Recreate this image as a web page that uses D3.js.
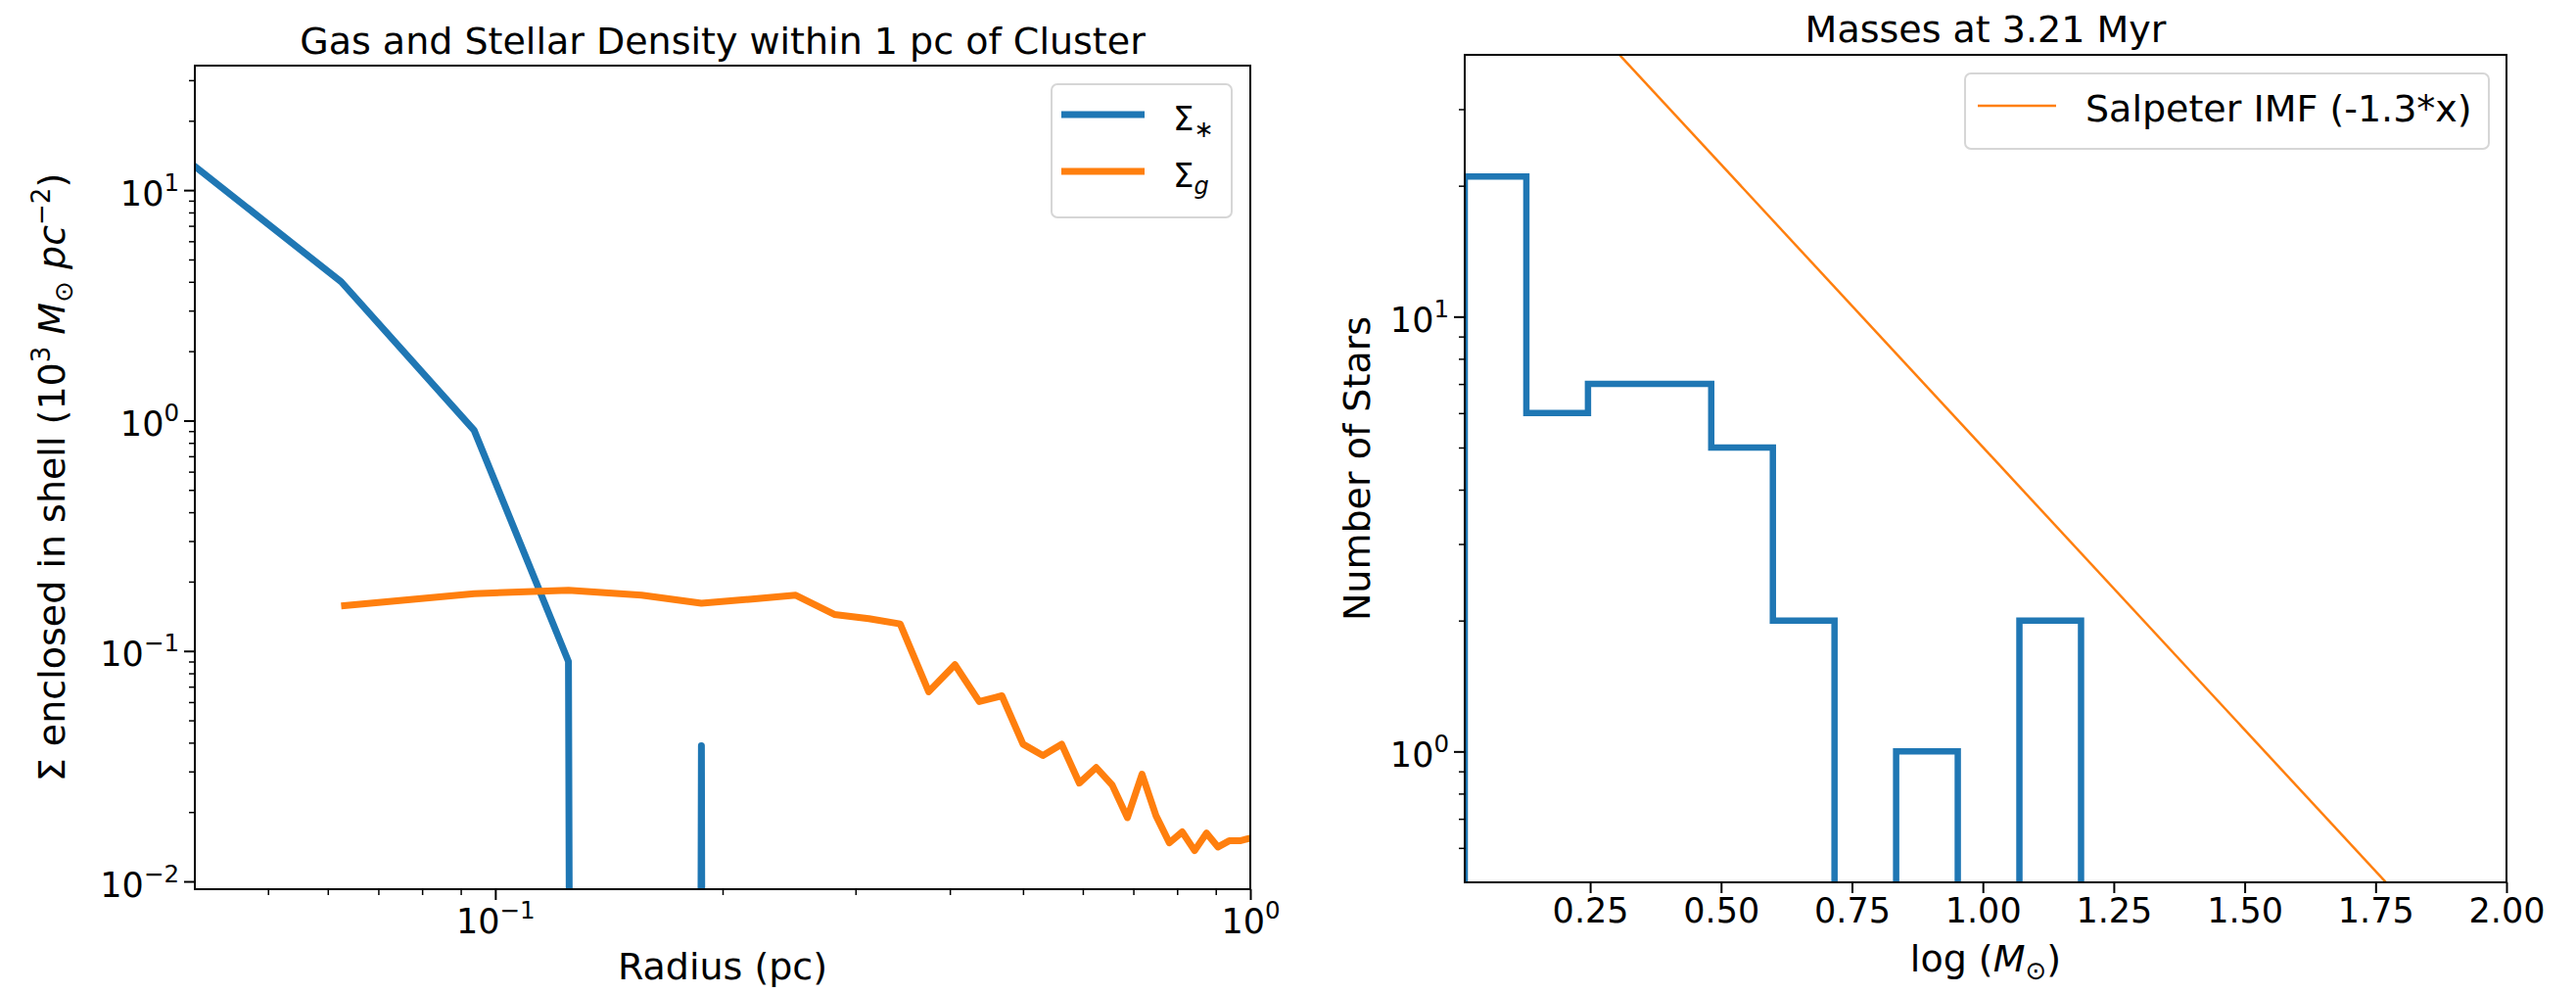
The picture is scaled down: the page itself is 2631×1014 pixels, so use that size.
<!DOCTYPE html>
<html>
<head>
<meta charset="utf-8">
<script src="https://cdn.jsdelivr.net/npm/d3@7"></script>
<style>
  body { margin: 0; background: #fff; }
  svg { display: block; font-family: "DejaVu Sans", sans-serif; }
  .domain { display: none; }
</style>
</head>
<body>
<script>

// shell radii (pc)
var radius = [0.03125, 0.0625, 0.09375, 0.125, 0.15625, 0.1875, 0.21875, 0.25,
  0.28125, 0.3125, 0.34375, 0.375, 0.40625, 0.4375, 0.46875, 0.5,
  0.53125, 0.5625, 0.59375, 0.625, 0.65625, 0.6875, 0.71875, 0.75,
  0.78125, 0.8125, 0.84375, 0.875, 0.90625, 0.9375, 0.96875, 1.0];

// stellar surface density (10^3 Msun pc^-2), zero = empty shell
var sigmaStar = [24, 4.0, 0.907, 0.090, 0, 0.0388, 0, 0,
  0, 0, 0, 0, 0, 0, 0, 0,
  0, 0, 0, 0, 0, 0, 0, 0,
  0, 0, 0, 0, 0, 0, 0, 0];

// gas surface density, first shell not plotted
var sigmaGas = [null, 0.157, 0.1774, 0.1836, 0.1745, 0.161, 0.168, 0.1745,
  0.144, 0.138, 0.131, 0.0665, 0.0872, 0.0603, 0.0639, 0.0394,
  0.0352, 0.0394, 0.0267, 0.0312, 0.0262, 0.0189, 0.0292, 0.0193,
  0.0147, 0.0164, 0.0136, 0.0162, 0.0141, 0.0150, 0.0150, 0.0154];

// mass histogram (log Msun)
var massEdges = [0.0105, 0.1282, 0.2459, 0.3636, 0.4813, 0.599, 0.7167, 0.8344, 0.9521, 1.0698, 1.1875];
var starCounts = [21, 6, 7, 7, 5, 2, 0, 1, 0, 2];

// Salpeter reference line end points
var salpeterX = [0, 2];
var salpeterY = [100, 0.251];

var xTicksRight = [0.25, 0.5, 0.75, 1.0, 1.25, 1.5, 1.75, 2.0];

var blue = "#1f77b4", orange = "#ff7f0e";
var tiny = 1e-100;   // stands in for log(0), like matplotlib clipping

var svg = d3.select("body")
  .append("svg")
    .attr("width", 2631)
    .attr("height", 1014);

var defs = svg.append("defs");

// helpers ---------------------------------------------------------
function minorLog(lo, hi) {
  var out = [];
  for (var e = -3; e <= 2; e++) {
    for (var k = 2; k <= 9; k++) {
      var v = k * Math.pow(10, e);
      if (v >= lo && v <= hi) out.push(v);
    }
  }
  return out;
}

function powLabel(text, v) {
  var e = Math.round(Math.log10(v));
  text.text(null);
  text.append("tspan").text("10");
  text.append("tspan")
    .attr("dy", -15)
    .attr("font-size", 24.5)
    .text(e < 0 ? "\u2212" + (-e) : e);
}

function styleAxis(g, major) {
  g.attr("font-family", null).attr("font-size", 35);
  g.selectAll(".tick line")
    .attr("stroke", "#000")
    .attr("stroke-width", major ? 2 : 1.5);
  g.selectAll(".tick text").attr("fill", "#000");
}

// ================= left panel =================
var L = {left: 199, right: 1277, top: 67, bottom: 908};

var x1 = d3.scaleLog().domain([0.04, 1]).range([L.left, L.right]);
var y1 = d3.scaleLog().domain([0.00925, 34.7]).range([L.bottom, L.top]);

defs.append("clipPath").attr("id", "clipL")
  .append("rect")
    .attr("x", L.left).attr("y", L.top)
    .attr("width", L.right - L.left).attr("height", L.bottom - L.top);

var profile = radius.map(function(r, i) {
  return {r: r, star: sigmaStar[i], gas: sigmaGas[i]};
});

var starLine = d3.line()
  .x(function(d) { return x1(d.r); })
  .y(function(d) { return y1(d.star > 0 ? d.star : tiny); });

var gasLine = d3.line()
  .defined(function(d) { return d.gas != null; })
  .x(function(d) { return x1(d.r); })
  .y(function(d) { return y1(d.gas > 0 ? d.gas : tiny); });

var plotL = svg.append("g").attr("clip-path", "url(#clipL)");

plotL.append("path")
  .datum(profile)
  .attr("d", starLine)
  .attr("fill", "none")
  .attr("stroke", blue)
  .attr("stroke-width", 7)
  .attr("stroke-linejoin", "round");

plotL.append("path")
  .datum(profile)
  .attr("d", gasLine)
  .attr("fill", "none")
  .attr("stroke", orange)
  .attr("stroke-width", 7)
  .attr("stroke-linejoin", "round");

// axes left
svg.append("g")
  .attr("transform", "translate(0," + L.bottom + ")")
  .call(d3.axisBottom(x1).tickValues(minorLog(0.041, 0.99)).tickSize(6).tickFormat(""))
  .call(styleAxis, false);

svg.append("g")
  .attr("transform", "translate(0," + L.bottom + ")")
  .call(d3.axisBottom(x1).tickValues([0.1, 1]).tickSize(11))
  .call(styleAxis, true)
  .selectAll(".tick text")
    .attr("y", 45).attr("dy", 0)
    .each(function(d) { powLabel(d3.select(this), d); });

svg.append("g")
  .attr("transform", "translate(" + L.left + ",0)")
  .call(d3.axisLeft(y1).tickValues(minorLog(0.0093, 34.7)).tickSize(6).tickFormat(""))
  .call(styleAxis, false);

svg.append("g")
  .attr("transform", "translate(" + L.left + ",0)")
  .call(d3.axisLeft(y1).tickValues([0.01, 0.1, 1, 10]).tickSize(11))
  .call(styleAxis, true)
  .selectAll(".tick text")
    .attr("x", -16).attr("dy", 15)
    .each(function(d) { powLabel(d3.select(this), d); });

svg.append("rect")
  .attr("x", L.left).attr("y", L.top)
  .attr("width", L.right - L.left).attr("height", L.bottom - L.top)
  .attr("fill", "none").attr("stroke", "#000").attr("stroke-width", 2);

svg.append("text")
  .attr("x", (L.left + L.right) / 2).attr("y", 55)
  .attr("text-anchor", "middle").attr("font-size", 38)
  .text("Gas and Stellar Density within 1 pc of Cluster");

svg.append("text")
  .attr("x", (L.left + L.right) / 2).attr("y", 1000)
  .attr("text-anchor", "middle").attr("font-size", 38)
  .text("Radius (pc)");

var yl = svg.append("text")
  .attr("transform", "translate(66," + (L.top + L.bottom) / 2 + ") rotate(-90)")
  .attr("text-anchor", "middle").attr("font-size", 38);
yl.append("tspan").text("\u03A3 enclosed in shell (10");
yl.append("tspan").attr("dy", -15).attr("font-size", 26).text("3");
yl.append("tspan").attr("dy", 15).text(" ");
yl.append("tspan").attr("font-style", "italic").text("M");
yl.append("tspan").attr("dy", 8).attr("font-size", 26).text("\u2299");
yl.append("tspan").attr("dy", -8).text(" ");
yl.append("tspan").attr("font-style", "italic").text("pc");
yl.append("tspan").attr("dy", -15).attr("font-size", 26).text("\u22122");
yl.append("tspan").attr("dy", 15).text(")");

// legend left
var legL = svg.append("g");
legL.append("rect")
  .attr("x", 1074).attr("y", 86).attr("width", 184).attr("height", 136)
  .attr("rx", 6).attr("fill", "#fff").attr("fill-opacity", 0.8)
  .attr("stroke", "#d6d6d6").attr("stroke-width", 2);
[{c: blue, y: 117, sub: "\u2217", it: false}, {c: orange, y: 175, sub: "g", it: true}].forEach(function(d) {
  legL.append("line")
    .attr("x1", 1084).attr("x2", 1169).attr("y1", d.y).attr("y2", d.y)
    .attr("stroke", d.c).attr("stroke-width", 7);
  var t = legL.append("text")
    .attr("x", 1198).attr("y", d.y + 16).attr("font-size", 34);
  t.append("tspan").text("\u03A3");
  t.append("tspan").attr("dy", 7).attr("font-size", 24)
    .attr("font-style", d.it ? "italic" : null).text(d.sub);
});

// ================= right panel =================
var R = {left: 1496, right: 2560, top: 56, bottom: 901};

var x2 = d3.scaleLinear().domain([0.0105, 2.0]).range([R.left, R.right]);
var y2 = d3.scaleLog().domain([0.5, 40]).range([R.bottom, R.top]);

defs.append("clipPath").attr("id", "clipR")
  .append("rect")
    .attr("x", R.left).attr("y", R.top)
    .attr("width", R.right - R.left).attr("height", R.bottom - R.top);

// step outline of the histogram
var steps = [[massEdges[0], tiny]];
starCounts.forEach(function(c, i) {
  var v = c > 0 ? c : tiny;
  steps.push([massEdges[i], v]);
  steps.push([massEdges[i + 1], v]);
});
steps.push([massEdges[massEdges.length - 1], tiny]);

var plotR = svg.append("g").attr("clip-path", "url(#clipR)");

plotR.append("path")
  .datum(steps)
  .attr("d", d3.line().x(function(d) { return x2(d[0]); }).y(function(d) { return y2(d[1]); }))
  .attr("fill", "none")
  .attr("stroke", blue)
  .attr("stroke-width", 6.5)
  .attr("stroke-linejoin", "miter");

var salpeter = salpeterX.map(function(x, i) { return [x, salpeterY[i]]; });
plotR.append("path")
  .datum(salpeter)
  .attr("d", d3.line().x(function(d) { return x2(d[0]); }).y(function(d) { return y2(d[1]); }))
  .attr("fill", "none")
  .attr("stroke", orange)
  .attr("stroke-width", 2.5);

// axes right
svg.append("g")
  .attr("transform", "translate(0," + R.bottom + ")")
  .call(d3.axisBottom(x2).tickValues(xTicksRight).tickSize(11).tickFormat(d3.format(".2f")))
  .call(styleAxis, true)
  .selectAll(".tick text")
    .attr("y", 41).attr("dy", 0);

svg.append("g")
  .attr("transform", "translate(" + R.left + ",0)")
  .call(d3.axisLeft(y2).tickValues(minorLog(0.51, 39)).tickSize(6).tickFormat(""))
  .call(styleAxis, false);

svg.append("g")
  .attr("transform", "translate(" + R.left + ",0)")
  .call(d3.axisLeft(y2).tickValues([1, 10]).tickSize(11))
  .call(styleAxis, true)
  .selectAll(".tick text")
    .attr("x", -16).attr("dy", 15)
    .each(function(d) { powLabel(d3.select(this), d); });

svg.append("rect")
  .attr("x", R.left).attr("y", R.top)
  .attr("width", R.right - R.left).attr("height", R.bottom - R.top)
  .attr("fill", "none").attr("stroke", "#000").attr("stroke-width", 2);

svg.append("text")
  .attr("x", (R.left + R.right) / 2).attr("y", 43)
  .attr("text-anchor", "middle").attr("font-size", 38)
  .text("Masses at 3.21 Myr");

var xl = svg.append("text")
  .attr("x", (R.left + R.right) / 2).attr("y", 992)
  .attr("text-anchor", "middle").attr("font-size", 38);
xl.append("tspan").text("log (");
xl.append("tspan").attr("font-style", "italic").text("M");
xl.append("tspan").attr("dy", 8).attr("font-size", 26).text("\u2299");
xl.append("tspan").attr("dy", -8).text(")");

svg.append("text")
  .attr("transform", "translate(1399," + (R.top + R.bottom) / 2 + ") rotate(-90)")
  .attr("text-anchor", "middle").attr("font-size", 38)
  .text("Number of Stars");

// legend right
var legR = svg.append("g");
legR.append("rect")
  .attr("x", 2007).attr("y", 75).attr("width", 535).attr("height", 77)
  .attr("rx", 6).attr("fill", "#fff").attr("fill-opacity", 0.8)
  .attr("stroke", "#d6d6d6").attr("stroke-width", 2);
legR.append("line")
  .attr("x1", 2020).attr("x2", 2100).attr("y1", 108).attr("y2", 108)
  .attr("stroke", orange).attr("stroke-width", 2.5);
legR.append("text")
  .attr("x", 2130).attr("y", 124).attr("font-size", 38)
  .text("Salpeter IMF (-1.3*x)");

</script>
</body>
</html>
